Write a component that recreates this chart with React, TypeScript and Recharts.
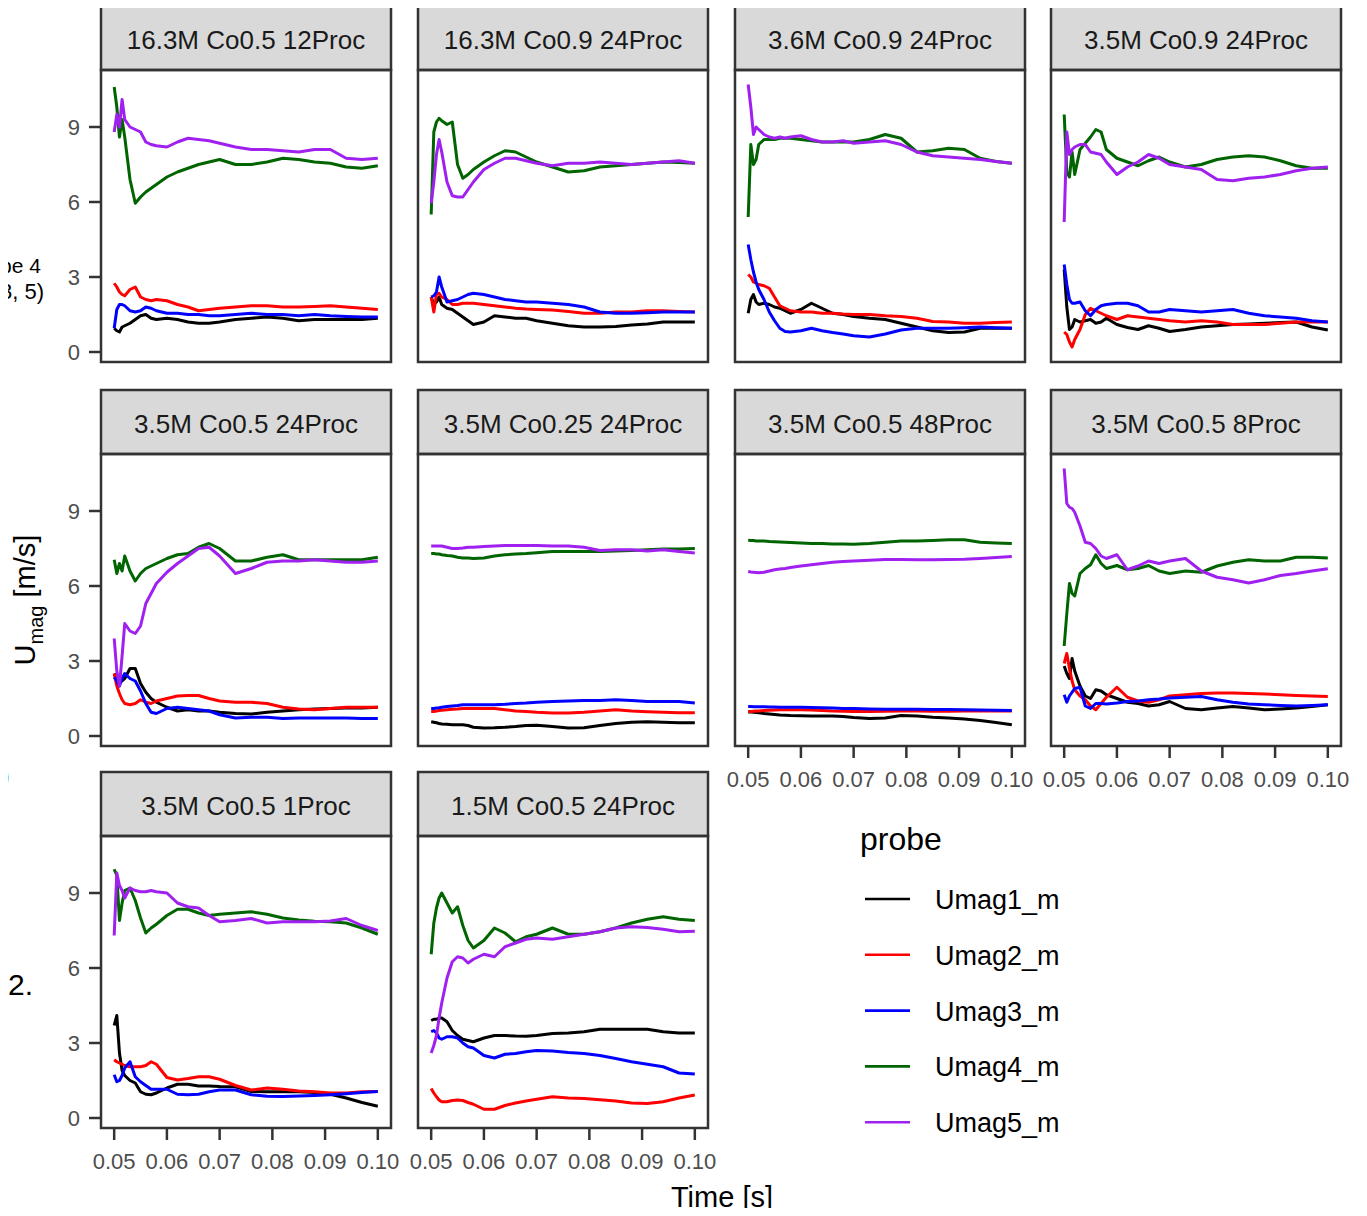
import React from "react";
import { LineChart, Line, XAxis, YAxis } from "recharts";

// Sampling times shared by every run (denser right after start-up)
const TIME = [
  0.05, 0.0505, 0.051, 0.0515, 0.052, 0.053, 0.054, 0.055, 0.056, 0.057, 0.058,
  0.06, 0.062, 0.064, 0.066, 0.068, 0.07, 0.073, 0.076, 0.079, 0.082, 0.085,
  0.088, 0.091, 0.094, 0.097, 0.1,
];

const X_TICKS = [0.05, 0.06, 0.07, 0.08, 0.09, 0.1];
const Y_TICKS = [0, 3, 6, 9];

const PROBES = ["Umag1_m", "Umag2_m", "Umag3_m", "Umag4_m", "Umag5_m"];
const PROBE_COLORS = ["#000000", "#FF0000", "#0000FF", "#006400", "#A020F0"];

const PANEL_TITLES = [
  "16.3M Co0.5 12Proc",
  "16.3M Co0.9 24Proc",
  "3.6M Co0.9 24Proc",
  "3.5M Co0.9 24Proc",
  "3.5M Co0.5 24Proc",
  "3.5M Co0.25 24Proc",
  "3.5M Co0.5 48Proc",
  "3.5M Co0.5 8Proc",
  "3.5M Co0.5 1Proc",
  "1.5M Co0.5 24Proc",
];

// 16.3M Co0.5 12Proc
const P1_U1 = [0.95, 0.85, 0.8, 1.0, 1.05, 1.15, 1.3, 1.45, 1.5, 1.35, 1.3, 1.35, 1.3, 1.2, 1.15, 1.15, 1.2, 1.3, 1.35, 1.4, 1.35, 1.25, 1.3, 1.3, 1.3, 1.3, 1.35];
const P1_U2 = [2.75, 2.6, 2.4, 2.3, 2.25, 2.5, 2.6, 2.2, 2.1, 2.05, 2.1, 2.05, 1.9, 1.8, 1.65, 1.7, 1.75, 1.8, 1.85, 1.85, 1.8, 1.8, 1.82, 1.85, 1.8, 1.75, 1.7];
const P1_U3 = [0.95, 1.7, 1.9, 1.9, 1.85, 1.65, 1.6, 1.65, 1.8, 1.75, 1.65, 1.55, 1.55, 1.5, 1.5, 1.45, 1.45, 1.5, 1.55, 1.5, 1.5, 1.45, 1.5, 1.45, 1.42, 1.4, 1.4];
const P1_U4 = [10.6, 9.8, 8.6, 9.3, 8.6, 6.9, 5.95, 6.2, 6.4, 6.55, 6.7, 7.0, 7.2, 7.35, 7.5, 7.6, 7.7, 7.5, 7.5, 7.6, 7.75, 7.7, 7.6, 7.55, 7.4, 7.35, 7.45];
const P1_U5 = [8.8, 9.5, 9.0, 10.1, 9.3, 9.0, 8.9, 8.8, 8.4, 8.3, 8.25, 8.2, 8.4, 8.55, 8.5, 8.45, 8.35, 8.2, 8.1, 8.1, 8.05, 8.0, 8.1, 8.1, 7.75, 7.7, 7.75];

// 16.3M Co0.9 24Proc
const P2_U1 = [2.2, 1.9, 2.0, 2.2, 1.9, 1.75, 1.7, 1.55, 1.4, 1.25, 1.1, 1.2, 1.45, 1.4, 1.35, 1.35, 1.25, 1.15, 1.05, 1.0, 1.0, 1.02, 1.08, 1.12, 1.2, 1.2, 1.2];
const P2_U2 = [2.2, 1.6, 2.3, 2.35, 2.2, 2.1, 1.9, 1.9, 1.95, 1.95, 1.95, 1.9, 1.85, 1.8, 1.75, 1.72, 1.7, 1.68, 1.62, 1.55, 1.55, 1.6, 1.6, 1.65, 1.65, 1.62, 1.6];
const P2_U3 = [2.2, 2.25, 2.4, 3.0, 2.6, 2.0, 2.05, 2.1, 2.2, 2.3, 2.35, 2.3, 2.2, 2.1, 2.05, 2.0, 2.0, 1.95, 1.9, 1.8, 1.6, 1.55, 1.55, 1.57, 1.6, 1.6, 1.6];
const P2_U4 = [5.5, 8.8, 9.2, 9.35, 9.25, 9.1, 9.2, 7.5, 6.95, 7.1, 7.3, 7.6, 7.85, 8.05, 8.0, 7.8, 7.6, 7.4, 7.2, 7.25, 7.4, 7.45, 7.5, 7.55, 7.6, 7.58, 7.55];
const P2_U5 = [5.95, 6.8, 7.9, 8.5, 8.0, 6.8, 6.25, 6.2, 6.2, 6.5, 6.8, 7.3, 7.55, 7.75, 7.75, 7.65, 7.55, 7.45, 7.55, 7.55, 7.6, 7.55, 7.5, 7.55, 7.6, 7.65, 7.55];

// 3.6M Co0.9 24Proc
const P3_U1 = [1.55, 2.1, 2.3, 2.0, 1.9, 1.95, 1.9, 1.8, 1.75, 1.65, 1.55, 1.7, 1.95, 1.75, 1.55, 1.5, 1.42, 1.35, 1.3, 1.15, 1.0, 0.85, 0.78, 0.8, 0.95, 0.95, 0.95];
const P3_U2 = [3.1, 3.0, 2.8, 2.75, 2.7, 2.65, 2.55, 2.2, 1.85, 1.75, 1.65, 1.6, 1.6, 1.55, 1.55, 1.52, 1.5, 1.5, 1.45, 1.42, 1.35, 1.22, 1.2, 1.15, 1.15, 1.18, 1.2];
const P3_U3 = [4.3, 3.7, 3.2, 2.8, 2.5, 2.1, 1.6, 1.25, 0.95, 0.82, 0.8, 0.85, 0.95, 0.85, 0.78, 0.72, 0.65, 0.6, 0.72, 0.88, 0.95, 0.95, 0.95, 0.97, 1.0, 0.97, 0.95];
const P3_U4 = [5.4, 8.3, 7.5, 7.7, 8.3, 8.5, 8.5, 8.5, 8.55, 8.55, 8.55, 8.5, 8.45, 8.4, 8.4, 8.4, 8.4, 8.5, 8.7, 8.55, 8.0, 8.05, 8.15, 8.1, 7.75, 7.62, 7.55];
const P3_U5 = [10.7, 9.8, 8.7, 9.0, 8.9, 8.7, 8.6, 8.55, 8.6, 8.55, 8.6, 8.65, 8.5, 8.4, 8.4, 8.45, 8.35, 8.4, 8.45, 8.3, 8.0, 7.85, 7.8, 7.75, 7.7, 7.62, 7.55];

// 3.5M Co0.9 24Proc
const P4_U1 = [3.3, 1.8, 0.9, 1.0, 1.3, 1.2, 1.25, 1.3, 1.15, 1.2, 1.35, 1.1, 0.98, 0.9, 1.05, 0.95, 0.82, 0.9, 1.0, 1.05, 1.1, 1.12, 1.15, 1.18, 1.2, 1.0, 0.88];
const P4_U2 = [0.8, 0.7, 0.4, 0.2, 0.5, 0.9, 1.5, 1.75, 1.65, 1.55, 1.45, 1.3, 1.45, 1.4, 1.35, 1.3, 1.25, 1.2, 1.25, 1.2, 1.1, 1.1, 1.1, 1.15, 1.2, 1.2, 1.2];
const P4_U3 = [3.5, 2.7, 2.1, 1.95, 1.95, 2.0, 1.65, 1.45, 1.7, 1.85, 1.9, 1.95, 1.95, 1.85, 1.6, 1.6, 1.7, 1.65, 1.6, 1.65, 1.7, 1.55, 1.45, 1.4, 1.35, 1.25, 1.2];
const P4_U4 = [9.5, 7.2, 7.0, 8.0, 7.1, 8.1, 8.35, 8.6, 8.9, 8.8, 8.1, 7.75, 7.6, 7.45, 7.65, 7.8, 7.6, 7.4, 7.5, 7.7, 7.8, 7.85, 7.8, 7.65, 7.45, 7.35, 7.35];
const P4_U5 = [5.2, 8.8, 7.9, 8.1, 8.2, 8.3, 8.3, 8.0, 7.95, 7.9, 7.6, 7.1, 7.4, 7.6, 7.9, 7.75, 7.5, 7.4, 7.3, 6.9, 6.85, 6.95, 7.0, 7.1, 7.25, 7.35, 7.4];

// 3.5M Co0.5 24Proc
const P5_U1 = [2.5, 2.3, 2.2, 2.2, 2.3, 2.7, 2.7, 2.1, 1.75, 1.5, 1.35, 1.15, 1.0, 1.05, 1.0, 1.0, 0.95, 0.9, 0.88, 0.95, 1.0, 1.05, 1.08, 1.1, 1.12, 1.12, 1.15];
const P5_U2 = [2.5, 2.0, 1.7, 1.45, 1.3, 1.25, 1.3, 1.45, 1.35, 1.3, 1.4, 1.5, 1.6, 1.62, 1.62, 1.5, 1.4, 1.35, 1.35, 1.3, 1.15, 1.08, 1.05, 1.1, 1.15, 1.15, 1.15];
const P5_U3 = [2.35, 2.2, 2.0, 2.3, 2.5, 2.3, 2.2, 1.8, 1.3, 0.95, 0.9, 1.1, 1.15, 1.1, 1.05, 1.0, 0.85, 0.72, 0.75, 0.75, 0.7, 0.72, 0.72, 0.72, 0.72, 0.7, 0.7];
const P5_U4 = [7.05, 6.5, 6.9, 6.6, 7.2, 6.6, 6.2, 6.5, 6.7, 6.8, 6.9, 7.1, 7.25, 7.3, 7.55, 7.7, 7.5, 7.0, 7.0, 7.15, 7.25, 7.05, 7.05, 7.05, 7.05, 7.05, 7.15];
const P5_U5 = [3.9, 2.6, 2.0, 3.2, 4.5, 4.2, 4.1, 4.4, 5.3, 5.7, 6.1, 6.55, 6.9, 7.2, 7.5, 7.55, 7.2, 6.5, 6.7, 6.95, 7.0, 7.0, 7.05, 7.0, 6.95, 6.95, 7.0];

// 3.5M Co0.25 24Proc
const P6_U1 = [0.57, 0.55, 0.53, 0.5, 0.48, 0.47, 0.45, 0.45, 0.45, 0.42, 0.35, 0.32, 0.33, 0.35, 0.38, 0.42, 0.43, 0.38, 0.32, 0.33, 0.42, 0.5, 0.55, 0.57, 0.55, 0.53, 0.53];
const P6_U2 = [0.98, 0.98, 1.0, 1.02, 1.03, 1.05, 1.07, 1.08, 1.1, 1.1, 1.1, 1.1, 1.1, 1.05, 1.0, 0.98, 0.95, 0.92, 0.92, 0.95, 1.0, 1.05, 1.0, 0.97, 0.95, 0.93, 0.93];
const P6_U3 = [1.1, 1.1, 1.12, 1.13, 1.15, 1.18, 1.2, 1.22, 1.25, 1.25, 1.25, 1.25, 1.25, 1.27, 1.3, 1.32, 1.35, 1.38, 1.4, 1.42, 1.42, 1.45, 1.42, 1.38, 1.38, 1.38, 1.32];
const P6_U4 = [7.3, 7.3, 7.28, 7.28, 7.25, 7.22, 7.2, 7.15, 7.12, 7.12, 7.1, 7.12, 7.2, 7.25, 7.28, 7.3, 7.33, 7.38, 7.38, 7.38, 7.38, 7.4, 7.42, 7.45, 7.48, 7.48, 7.5];
const P6_U5 = [7.6, 7.6, 7.6, 7.6, 7.6, 7.55, 7.5, 7.5, 7.52, 7.55, 7.55, 7.58, 7.6, 7.62, 7.62, 7.62, 7.62, 7.6, 7.6, 7.55, 7.42, 7.45, 7.45, 7.4, 7.45, 7.38, 7.32];

// 3.5M Co0.5 48Proc
const P7_U1 = [0.96, 0.96, 0.95, 0.94, 0.93, 0.9, 0.88, 0.86, 0.84, 0.83, 0.82, 0.81, 0.8, 0.8, 0.8, 0.78, 0.74, 0.7, 0.72, 0.82, 0.8, 0.75, 0.72, 0.68, 0.62, 0.54, 0.45];
const P7_U2 = [0.98, 0.98, 0.99, 1.0, 1.0, 1.02, 1.03, 1.04, 1.05, 1.05, 1.05, 1.05, 1.04, 1.02, 1.0, 0.99, 0.98, 0.98, 0.99, 1.0, 1.0, 0.99, 0.99, 1.0, 1.0, 1.0, 1.0];
const P7_U3 = [1.18, 1.18, 1.17, 1.17, 1.17, 1.17, 1.16, 1.16, 1.15, 1.15, 1.15, 1.15, 1.14, 1.13, 1.12, 1.1, 1.1, 1.08, 1.07, 1.07, 1.07, 1.06, 1.06, 1.05, 1.04, 1.03, 1.02];
const P7_U4 = [7.83, 7.82, 7.82, 7.8, 7.8, 7.8, 7.78, 7.77, 7.76, 7.75, 7.74, 7.72, 7.7, 7.7, 7.68, 7.68, 7.67, 7.7, 7.75, 7.8, 7.8, 7.82, 7.85, 7.85, 7.75, 7.72, 7.7];
const P7_U5 = [6.58, 6.56, 6.55, 6.54, 6.53, 6.55, 6.6, 6.65, 6.68, 6.7, 6.74, 6.8, 6.85, 6.9, 6.95, 6.98, 7.0, 7.03, 7.06, 7.06, 7.05, 7.05, 7.06, 7.07, 7.1, 7.14, 7.18];

// 3.5M Co0.5 8Proc
const P8_U1 = [2.8, 2.5, 2.3, 3.1, 2.6, 2.0, 1.6, 1.5, 1.85, 1.8, 1.65, 1.5, 1.35, 1.3, 1.2, 1.25, 1.38, 1.1, 1.05, 1.12, 1.18, 1.12, 1.05, 1.08, 1.12, 1.18, 1.25];
const P8_U2 = [2.9, 3.3, 2.7, 2.2, 1.85, 1.6, 1.45, 1.2, 1.05, 1.3, 1.55, 1.95, 1.55, 1.4, 1.35, 1.45, 1.6, 1.65, 1.7, 1.72, 1.72, 1.7, 1.68, 1.65, 1.62, 1.6, 1.58];
const P8_U3 = [1.65, 1.35, 1.6, 1.75, 1.9, 1.95, 1.2, 1.1, 1.3, 1.3, 1.28, 1.32, 1.38, 1.4, 1.45, 1.48, 1.52, 1.55, 1.58, 1.45, 1.35, 1.28, 1.25, 1.22, 1.2, 1.22, 1.25];
const P8_U4 = [3.6, 4.9, 6.1, 5.7, 5.6, 6.5, 6.7, 6.85, 7.25, 6.9, 6.7, 6.82, 6.65, 6.7, 6.82, 6.6, 6.5, 6.6, 6.55, 6.8, 6.95, 7.05, 7.0, 7.0, 7.15, 7.15, 7.12];
const P8_U5 = [10.7, 9.3, 9.15, 9.1, 8.95, 8.4, 7.75, 7.7, 7.5, 7.2, 7.1, 7.25, 6.65, 6.8, 7.0, 6.9, 7.0, 7.1, 6.6, 6.35, 6.25, 6.12, 6.25, 6.42, 6.5, 6.6, 6.69];

// 3.5M Co0.5 1Proc
const P9_U1 = [3.7, 4.1, 2.6, 1.9, 1.7, 1.5, 1.4, 1.05, 0.95, 0.93, 1.0, 1.2, 1.35, 1.35, 1.28, 1.28, 1.26, 1.25, 1.06, 1.05, 1.05, 1.05, 1.02, 0.95, 0.8, 0.62, 0.47];
const P9_U2 = [2.33, 2.25, 2.2, 2.15, 2.1, 2.05, 2.05, 2.05, 2.1, 2.25, 2.15, 1.62, 1.52, 1.58, 1.65, 1.65, 1.55, 1.3, 1.12, 1.2, 1.15, 1.08, 1.05, 1.0, 1.0, 1.05, 1.06];
const P9_U3 = [1.73, 1.45, 1.5, 1.7, 2.0, 2.25, 1.65, 1.45, 1.3, 1.15, 1.15, 1.15, 0.95, 0.93, 0.95, 1.05, 1.12, 1.12, 0.93, 0.87, 0.86, 0.88, 0.9, 0.93, 0.97, 1.02, 1.06];
const P9_U4 = [9.95, 9.7, 7.9, 8.6, 9.1, 9.2, 8.7, 8.0, 7.4, 7.6, 7.75, 8.1, 8.35, 8.35, 8.2, 8.1, 8.15, 8.2, 8.25, 8.15, 8.0, 7.92, 7.87, 7.85, 7.8, 7.6, 7.35];
const P9_U5 = [7.3, 9.8, 9.3, 9.1, 8.8, 9.2, 9.1, 9.05, 9.05, 9.1, 9.05, 9.0, 8.6, 8.45, 8.4, 8.1, 7.85, 7.9, 7.98, 7.8, 7.85, 7.85, 7.85, 7.88, 7.98, 7.7, 7.5];

// 1.5M Co0.5 24Proc
const P10_U1 = [3.9, 3.95, 3.95, 4.0, 4.0, 3.85, 3.5, 3.3, 3.15, 3.1, 3.05, 3.2, 3.3, 3.3, 3.28, 3.27, 3.3, 3.38, 3.4, 3.45, 3.55, 3.55, 3.55, 3.55, 3.45, 3.4, 3.4];
const P10_U2 = [1.18, 1.0, 0.85, 0.72, 0.65, 0.65, 0.7, 0.72, 0.7, 0.62, 0.55, 0.35, 0.35, 0.5, 0.6, 0.68, 0.75, 0.85, 0.8, 0.78, 0.73, 0.68, 0.6, 0.58, 0.65, 0.8, 0.92];
const P10_U3 = [3.45, 3.5, 3.4, 3.2, 3.15, 3.25, 3.25, 3.2, 3.0, 2.85, 2.8, 2.5, 2.4, 2.55, 2.58, 2.65, 2.7, 2.68, 2.62, 2.58, 2.5, 2.38, 2.25, 2.15, 2.05, 1.8, 1.76];
const P10_U4 = [6.55, 7.8, 8.4, 8.8, 9.0, 8.6, 8.2, 8.45, 7.7, 7.1, 6.8, 7.1, 7.6, 7.4, 7.05, 7.25, 7.35, 7.6, 7.35, 7.35, 7.45, 7.6, 7.8, 7.95, 8.05, 7.95, 7.9];
const P10_U5 = [2.6, 2.9, 3.3, 4.0, 4.6, 5.6, 6.25, 6.45, 6.4, 6.2, 6.35, 6.55, 6.45, 6.85, 7.0, 7.15, 7.2, 7.15, 7.25, 7.35, 7.45, 7.6, 7.65, 7.62, 7.55, 7.45, 7.47];

const PANEL_SERIES = [
  [P1_U1, P1_U2, P1_U3, P1_U4, P1_U5],
  [P2_U1, P2_U2, P2_U3, P2_U4, P2_U5],
  [P3_U1, P3_U2, P3_U3, P3_U4, P3_U5],
  [P4_U1, P4_U2, P4_U3, P4_U4, P4_U5],
  [P5_U1, P5_U2, P5_U3, P5_U4, P5_U5],
  [P6_U1, P6_U2, P6_U3, P6_U4, P6_U5],
  [P7_U1, P7_U2, P7_U3, P7_U4, P7_U5],
  [P8_U1, P8_U2, P8_U3, P8_U4, P8_U5],
  [P9_U1, P9_U2, P9_U3, P9_U4, P9_U5],
  [P10_U1, P10_U2, P10_U3, P10_U4, P10_U5],
];

const FONT = '"Liberation Sans", Arial, Helvetica, sans-serif';
const INK = "#333333";

// facet grid geometry
const COL_LEFT = [101, 418, 735, 1051];
const ROW_TOP = [70, 454, 836];
const PW = 290;
const PH = 292;
const STRIP_H = 64;
const Y_AXIS_W = 100;
const X_AXIS_H = 60;
const PAD = 30; // room so edge tick labels are not clipped by the chart svg

function rowsFor(series: number[][]) {
  return TIME.map((t, i) => {
    const row: Record<string, number> = { t };
    series.forEach((s, k) => {
      row[`u${k + 1}`] = s[i];
    });
    return row;
  });
}

function Panel({ index }: { index: number }) {
  const row = Math.floor(index / 4);
  const col = index % 4;
  const showY = col === 0;
  const showX = index >= 6;
  const data = rowsFor(PANEL_SERIES[index]);
  const yw = showY ? Y_AXIS_W : 0;
  const xh = showX ? X_AXIS_H : 0;

  return (
    <div
      style={{
        position: "absolute",
        left: COL_LEFT[col] - yw - PAD,
        top: ROW_TOP[row] - PAD,
      }}
    >
      <LineChart
        width={PW + yw + 2 * PAD}
        height={PH + xh + 2 * PAD}
        data={data}
        margin={{ top: PAD, right: PAD, bottom: PAD, left: PAD }}
      >
        <XAxis
          dataKey="t"
          type="number"
          domain={[0.0475, 0.1025]}
          allowDataOverflow
          ticks={X_TICKS}
          interval={0}
          tickFormatter={(v) => Number(v).toFixed(2)}
          hide={!showX}
          height={X_AXIS_H}
          axisLine={false}
          tickLine={{ stroke: INK, strokeWidth: 2.5 }}
          tickSize={12}
          tickMargin={13}
          tick={{ fill: "#4D4D4D", fontSize: 22, fontFamily: FONT }}
        />
        <YAxis
          type="number"
          domain={[-0.4, 11.28]}
          allowDataOverflow
          ticks={Y_TICKS}
          interval={0}
          hide={!showY}
          width={Y_AXIS_W}
          axisLine={false}
          tickLine={{ stroke: INK, strokeWidth: 2.5 }}
          tickSize={12}
          tickMargin={9}
          tick={{ fill: "#4D4D4D", fontSize: 22, fontFamily: FONT }}
        />
        {PROBES.map((p, k) => (
          <Line
            key={p}
            name={p}
            dataKey={`u${k + 1}`}
            type="linear"
            stroke={PROBE_COLORS[k]}
            strokeWidth={3}
            strokeLinejoin="round"
            dot={false}
            isAnimationActive={false}
          />
        ))}
      </LineChart>
    </div>
  );
}

export default function App() {
  return (
    <div
      style={{
        position: "relative",
        width: 1367,
        height: 1216,
        margin: -8,
        overflow: "hidden",
        background: "#ffffff",
        fontFamily: FONT,
      }}
    >
      {PANEL_TITLES.map((_, i) => (
        <Panel key={i} index={i} />
      ))}

      <svg
        width={1367}
        height={1216}
        style={{ position: "absolute", left: 0, top: 0, pointerEvents: "none" }}
        fontFamily={FONT}
      >
        {/* strips and panel frames */}
        {PANEL_TITLES.map((title, i) => {
          const x = COL_LEFT[i % 4];
          const y = ROW_TOP[Math.floor(i / 4)];
          return (
            <g key={title}>
              <rect x={x} y={y - STRIP_H} width={PW} height={STRIP_H} fill="#D9D9D9" stroke={INK} strokeWidth={2.5} />
              <text x={x + PW / 2} y={y - STRIP_H + 43} textAnchor="middle" fontSize={26} fill="#1A1A1A">
                {title}
              </text>
              <rect x={x} y={y} width={PW} height={PH} fill="none" stroke={INK} strokeWidth={2.5} />
            </g>
          );
        })}

        {/* fragments of the surrounding page text at the left edge */}
        <g fill="#000">
          <text x={0} y={273} fontSize={21}>be 4</text>
          <text x={0} y={299} fontSize={22}>3, 5)</text>
          <text x={0} y={786} fontSize={30}>)</text>
          <text x={8} y={995} fontSize={30}>2.</text>
        </g>

        {/* axis titles */}
        <text transform="translate(35,600) rotate(-90)" textAnchor="middle" fontSize={29} fill="#000">
          U
          <tspan fontSize={20} dy={8}>mag</tspan>
          <tspan dy={-8}> [m/s]</tspan>
        </text>
        <text x={722} y={1207} textAnchor="middle" fontSize={29} fill="#000">
          Time [s]
        </text>

        {/* legend */}
        <text x={860} y={850} fontSize={32} fill="#000">probe</text>
        {PROBES.map((p, k) => {
          const cy = 899 + k * 55.8;
          return (
            <g key={p}>
              <line x1={865} x2={910} y1={cy} y2={cy} stroke={PROBE_COLORS[k]} strokeWidth={2.6} />
              <text x={935} y={cy + 10} fontSize={27} fill="#000">{p}</text>
            </g>
          );
        })}
      </svg>
    </div>
  );
}
